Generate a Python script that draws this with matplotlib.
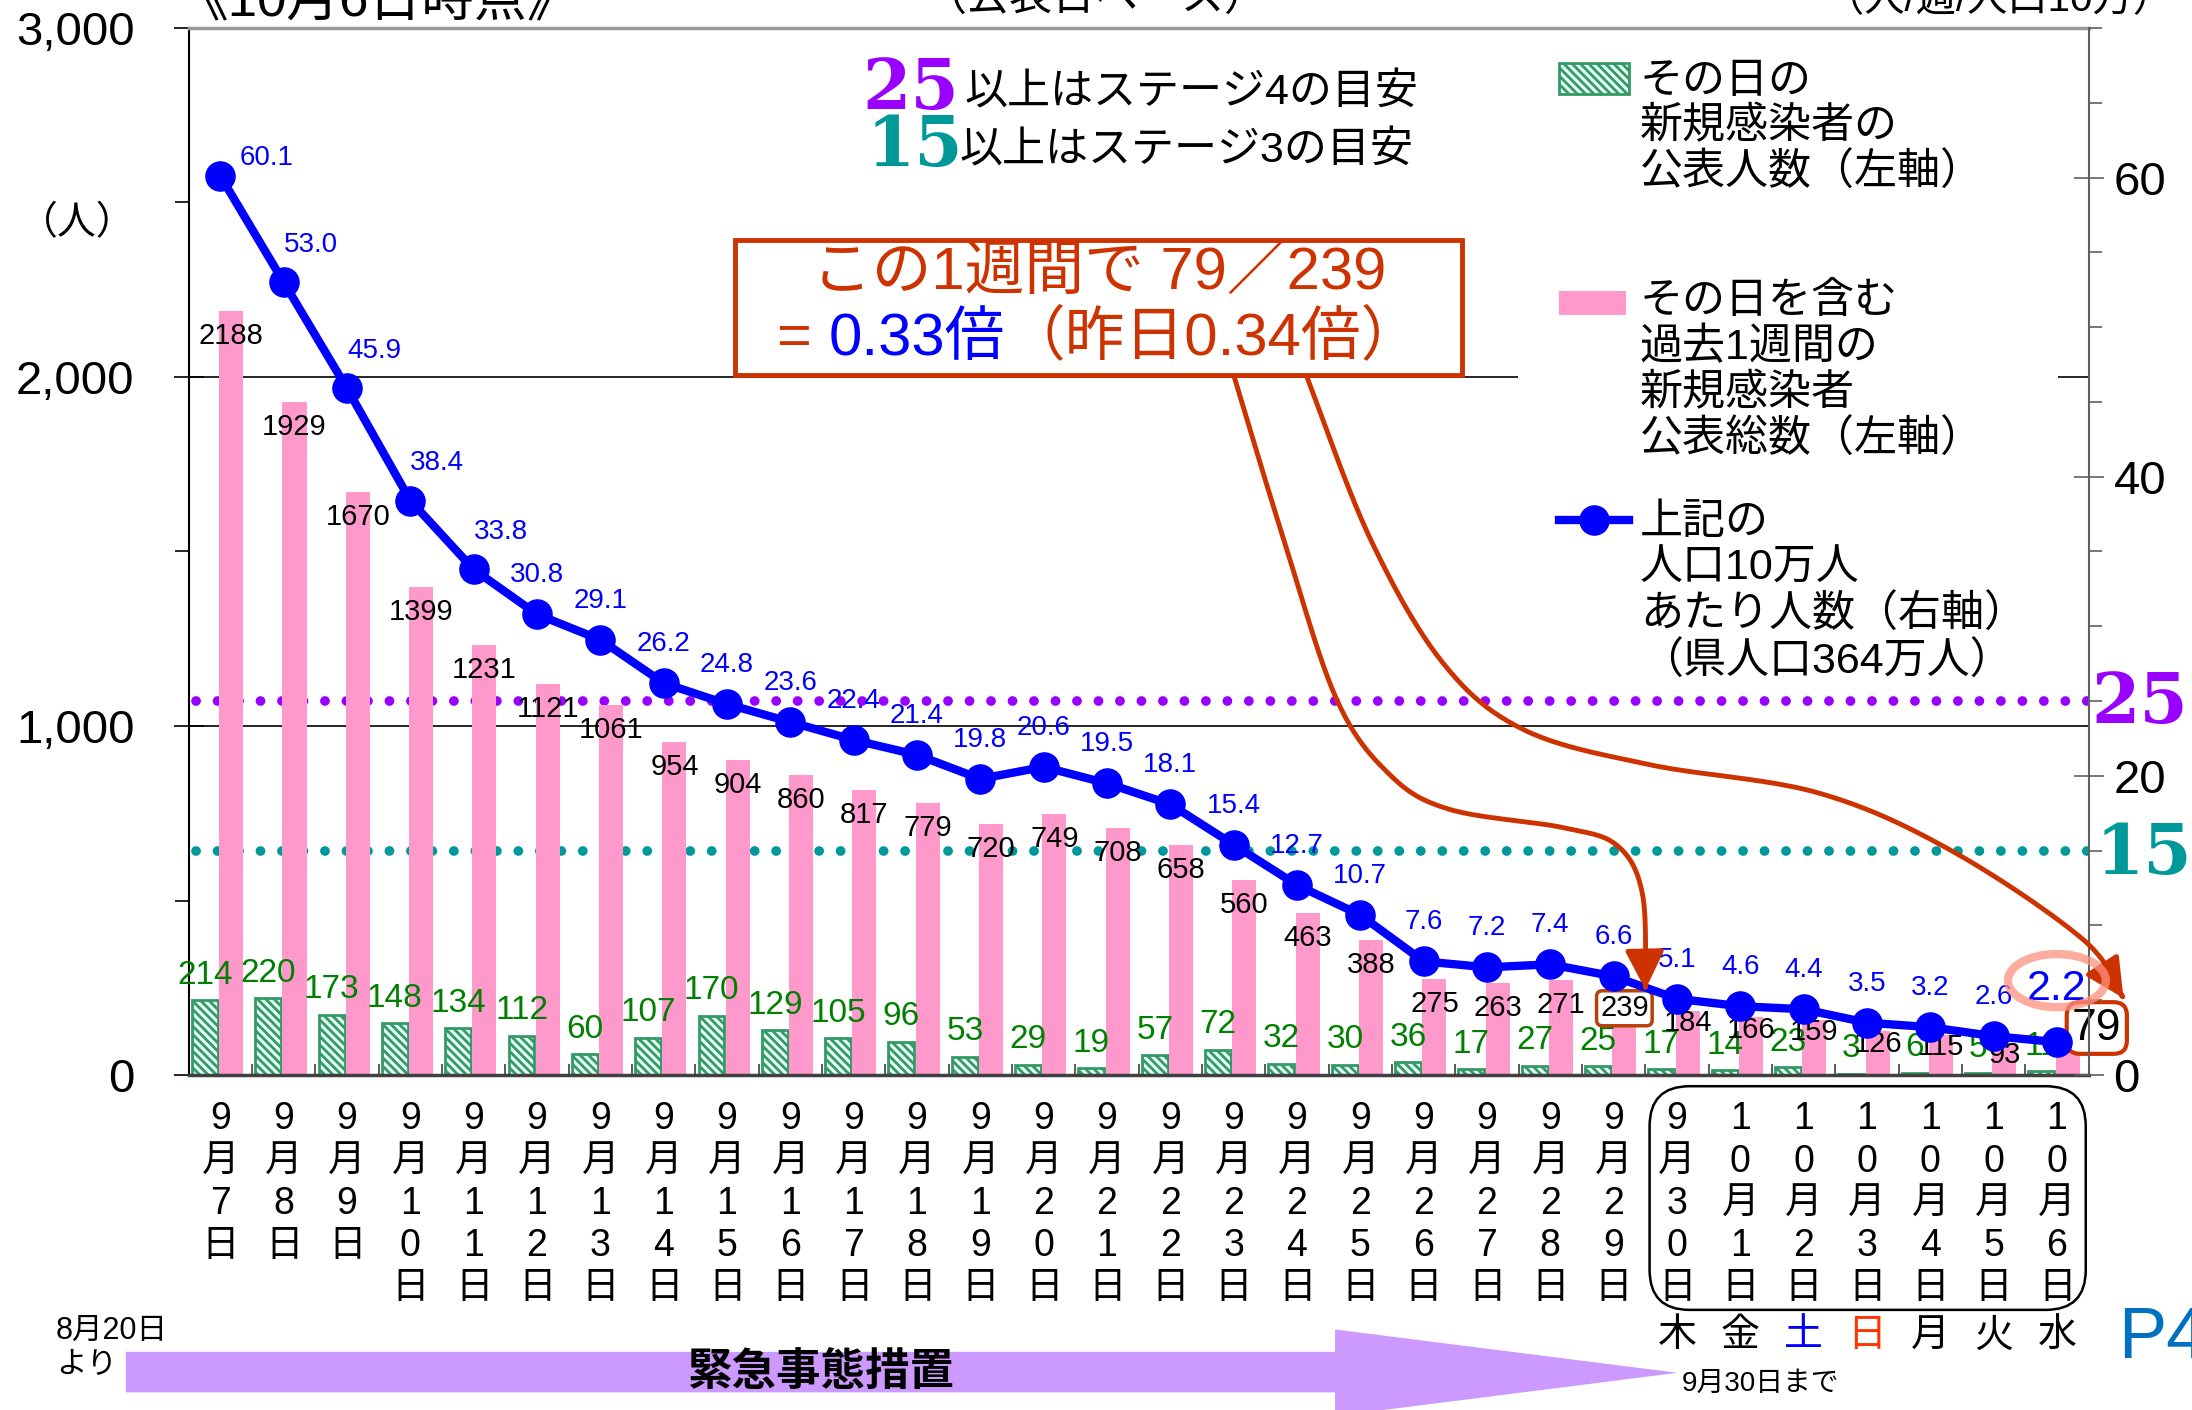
import numpy as np
import matplotlib
matplotlib.use("Agg")
import matplotlib.pyplot as plt
import matplotlib.transforms as mtransforms
from matplotlib.patches import Rectangle, Ellipse, FancyBboxPatch, FancyArrowPatch, Polygon
from matplotlib.path import Path
from matplotlib.lines import Line2D
from matplotlib.offsetbox import TextArea, HPacker, AnnotationBbox
from matplotlib.ticker import FuncFormatter, MultipleLocator

plt.rcParams['font.family'] = ['Liberation Sans', 'Noto Sans CJK JP']
plt.rcParams['hatch.linewidth'] = 2.0

# data
dates = ["9/7", "9/8", "9/9", "9/10", "9/11", "9/12", "9/13", "9/14", "9/15", "9/16",
         "9/17", "9/18", "9/19", "9/20", "9/21", "9/22", "9/23", "9/24", "9/25", "9/26",
         "9/27", "9/28", "9/29", "9/30", "10/1", "10/2", "10/3", "10/4", "10/5", "10/6"]
daily = [214, 220, 173, 148, 134, 112, 60, 107, 170, 129, 105, 96, 53, 29, 19,
         57, 72, 32, 30, 36, 17, 27, 25, 17, 14, 23, 3, 6, 5, 11]
weekly = [2188, 1929, 1670, 1399, 1231, 1121, 1061, 954, 904, 860, 817, 779, 720, 749, 708,
          658, 560, 463, 388, 275, 263, 271, 239, 184, 166, 159, 126, 115, 93, 79]
per100k = [60.1, 53.0, 45.9, 38.4, 33.8, 30.8, 29.1, 26.2, 24.8, 23.6, 22.4, 21.4, 19.8, 20.6, 19.5,
           18.1, 15.4, 12.7, 10.7, 7.6, 7.2, 7.4, 6.6, 5.1, 4.6, 4.4, 3.5, 3.2, 2.6, 2.2]
weekdays = ["木", "金", "土", "日", "月", "火", "水"]
weekday_colors = ["black", "black", "#0000ff", "#ff3300", "black", "black", "black"]
stage4 = 25
stage3 = 15

RED = "#cc3300"
BLUE = "#0000ff"
GREEN_TXT = "#008000"
PURPLE = "#9900ff"
TEAL = "#009999"

W, H = 2192, 1410
S = W / 1568.0


def fx(xd):
    return xd / 1568.0


def fy(yd):
    return 1 - yd * S / H


def px(xd, yd):
    return xd * S, H - yd * S


fig = plt.figure(figsize=(W / 100, H / 100), dpi=100)
ax = fig.add_axes([fx(135), fy(769), fx(1494) - fx(135), fy(20) - fy(769)])
ax2 = ax.twinx()

x = np.arange(len(dates))
ax.set_xlim(-0.5, len(dates) - 0.5)
ax.set_ylim(0, 3000)
ax2.set_ylim(0, 70)

ax.set_axisbelow(True)
ax.yaxis.grid(True, which='major', color='black', lw=1.2)

ax.bar(x - 0.245, daily, width=0.41, facecolor='#e6fff5', edgecolor='#339966',
       hatch='\\\\\\\\', lw=2, zorder=2)
ax.bar(x + 0.17, weekly, width=0.38, color='#ff99cc', zorder=2)

# stage lines (behind bars, in right-axis units)
trans = mtransforms.blended_transform_factory(ax.transAxes, ax2.transData)
ax.plot([0.004, 1], [stage4, stage4], transform=trans, color=PURPLE, lw=7,
        ls=(0, (0.01, 2.2)), dash_capstyle='round', zorder=1.5)
ax.plot([0.004, 1], [stage3, stage3], transform=trans, color=TEAL, lw=7,
        ls=(0, (0.01, 2.2)), dash_capstyle='round', zorder=1.5)

ax2.plot(x, per100k, color=BLUE, lw=6, marker='o', ms=21, zorder=3)

# labels
for i, v in enumerate(daily):
    ax.annotate(str(v), (x[i] - 0.245, v), xytext=(0, 18), textcoords='offset points',
                ha='center', va='center', color=GREEN_TXT, fontsize=24, zorder=4)

for i, v in enumerate(weekly):
    if i == len(weekly) - 1:
        ax.annotate(str(v), (x[i] + 0.17, v), xytext=(21, 14), textcoords='offset points',
                    ha='center', va='center', color='black', fontsize=32, zorder=6,
                    bbox=dict(boxstyle='round,pad=0.12,rounding_size=0.3', fc='white', ec=RED, lw=3))
        continue
    dy = -18 if v > 200 else -9
    kw = {}
    if i == 22:
        dy = -12
        kw['bbox'] = dict(boxstyle='round,pad=0.12,rounding_size=0.2', fc='white', ec='#b8400a', lw=2.5)
    ax.annotate(str(v), (x[i] + 0.17, v), xytext=(0, dy), textcoords='offset points',
                ha='center', va='center', color='black', fontsize=21, zorder=4, **kw)

for i, v in enumerate(per100k):
    if i == 0:
        dx, dy, ha, fs = 14, 13, 'left', 20
    elif i <= 4:
        dx, dy, ha, fs = 0, 27, 'left', 20
    elif i == len(per100k) - 1:
        dx, dy, ha, fs = 0, 38, 'center', 31
    else:
        dx, dy, ha, fs = 0, 28, 'center', 20
    ax2.annotate(f"{v:.1f}", (x[i], v), xytext=(dx, dy), textcoords='offset points',
                 ha=ha, va='center', color=BLUE, fontsize=fs, zorder=5)

# axes styling
ax.set_yticks([0, 1000, 2000, 3000])
ax.yaxis.set_major_formatter(FuncFormatter(lambda v, p: f"{v:,.0f}"))
ax.yaxis.set_minor_locator(MultipleLocator(500))
ax.tick_params(axis='y', which='major', direction='inout', length=22, width=1.2,
               labelsize=34, pad=28)
ax.tick_params(axis='y', which='minor', direction='out', length=10, width=1.2)

ax2.set_yticks([0, 20, 40, 60])
ax2.yaxis.set_minor_locator(MultipleLocator(5))
ax2.tick_params(axis='y', which='major', direction='inout', length=22, width=1.2,
                labelsize=34, pad=7, color='#606060')
ax2.tick_params(axis='y', which='minor', direction='out', length=9, width=1.2, color='#606060')

vlabels = []
for d in dates:
    m, dd = d.split("/")
    vlabels.append("\n".join(list(m) + ["月"] + list(dd) + ["日"]))
ax.set_xticks(x)
ax.set_xticklabels(vlabels, fontsize=27)
for t in ax.get_xticklabels():
    t.set_linespacing(1.22)
ax.set_xticks(np.arange(-0.5, len(dates), 1), minor=True)
ax.tick_params(axis='x', which='major', length=0, pad=19)
ax.tick_params(axis='x', which='minor', direction='in', length=8, width=1.2, color='#404040')

for sp in ['left', 'right', 'top', 'bottom']:
    ax2.spines[sp].set_visible(sp == 'right')
ax.spines['right'].set_visible(False)
ax2.spines['right'].set_color('#606060')
ax2.spines['right'].set_linewidth(1.5)
ax.spines['left'].set_linewidth(1.5)
ax.spines['bottom'].set_color('#404040')
ax.spines['bottom'].set_linewidth(2.5)
ax.spines['top'].set_color('#999999')
ax.spines['top'].set_linewidth(2.5)

# ellipse around last value
mx, my = ax2.transData.transform((x[-1], per100k[-1]))
ell = Ellipse((mx, my + 44 * S), 70 * S, 38 * S, transform=None, fill=False,
              ec='#ff9080', lw=6, alpha=0.75, zorder=6)
fig.add_artist(ell)

# top texts (cut at the top edge)
fig.text(fx(125), fy(12), "《10月6日時点》", fontsize=38, va='baseline')
fig.text(fx(660), fy(8), "（公表日ベース）", fontsize=31, va='baseline')
fig.text(fx(1305), fy(8), "（人/週/人口10万）", fontsize=29, va='baseline')
fig.text(fx(55), fy(160), "（人）", fontsize=28, ha='center', va='center')

# stage notes
fig.text(fx(617), fy(64), "25", family='DejaVu Serif', weight='bold', fontsize=50,
         color=PURPLE, va='center')
fig.text(fx(690), fy(67), "以上はステージ4の目安", fontsize=31, va='center')
fig.text(fx(620), fy(105), "15", family='DejaVu Serif', weight='bold', fontsize=50,
         color=TEAL, va='center')
fig.text(fx(686), fy(108), "以上はステージ3の目安", fontsize=31, va='center')
fig.text(fx(1496), fy(503), "25", family='DejaVu Serif', weight='bold', fontsize=50,
         color=PURPLE, va='center')
fig.text(fx(1499), fy(611), "15", family='DejaVu Serif', weight='bold', fontsize=50,
         color=TEAL, va='center')

# legend (manual)
fig.add_artist(Rectangle((fx(1086), fy(492)), fx(1472) - fx(1086), fy(30) - fy(492),
                         transform=fig.transFigure, fc='white', ec='none', zorder=1))
fig.add_artist(Rectangle((fx(1115), fy(67)), fx(1165) - fx(1115), fy(45) - fy(67),
                         transform=fig.transFigure, fc='#e6fff5', ec='#339966',
                         hatch='\\\\\\\\', lw=2, zorder=2))
fig.add_artist(Rectangle((fx(1115), fy(225)), fx(1163) - fx(1115), fy(208) - fy(225),
                         transform=fig.transFigure, fc='#ff99cc', ec='none', zorder=2))
fig.add_artist(Line2D([fx(1115), fx(1165)], [fy(372), fy(372)], transform=fig.transFigure,
                      color=BLUE, lw=6, zorder=2))
fig.add_artist(Line2D([fx(1140)], [fy(372)], transform=fig.transFigure, color=BLUE,
                      marker='o', ms=21, zorder=2))
fig.text(fx(1173), fy(44), "その日の\n新規感染者の\n公表人数（左軸）", fontsize=31,
         va='top', linespacing=1.18)
fig.text(fx(1173), fy(202), "その日を含む\n過去1週間の\n新規感染者\n公表総数（左軸）",
         fontsize=31, va='top', linespacing=1.18)
fig.text(fx(1173), fy(360), "上記の\n人口10万人\nあたり人数（右軸）\n（県人口364万人）",
         fontsize=31, va='top', linespacing=1.18)

# red comment box
fig.add_artist(Rectangle((fx(526), fy(268)), fx(1046) - fx(526), fy(172) - fy(268),
                         transform=fig.transFigure, fc='white', ec=RED, lw=3.5, zorder=1))
fig.text(fx(786), fy(195), "この1週間で 79／239", fontsize=43, color=RED,
         ha='center', va='center')
parts = [TextArea("= ", textprops=dict(color=RED, fontsize=43)),
         TextArea("0.33倍", textprops=dict(color=BLUE, fontsize=43)),
         TextArea("（昨日0.34倍）", textprops=dict(color=RED, fontsize=43))]
line2 = HPacker(children=parts, align='baseline', pad=0, sep=0)
ab = AnnotationBbox(line2, (fx(786), fy(242)), xycoords='figure fraction',
                    frameon=False, box_alignment=(0.5, 0.5), pad=0)
ab.set_zorder(3)
fig.add_artist(ab)


def smooth(points, n=24):
    p = np.array(points, dtype=float)
    p = np.vstack([p[0], p, p[-1]])
    out = []
    for i in range(1, len(p) - 2):
        p0, p1, p2, p3 = p[i - 1], p[i], p[i + 1], p[i + 2]
        for t in np.linspace(0, 1, n, endpoint=False):
            out.append(0.5 * (2 * p1 + (-p0 + p2) * t + (2 * p0 - 5 * p1 + 4 * p2 - p3) * t ** 2
                              + (-p0 + 3 * p1 - 3 * p2 + p3) * t ** 3))
    out.append(p[-2])
    return np.array(out)


arrow1 = [(883, 270), (918, 385), (956, 500), (994, 554), (1037, 579), (1118, 592),
          (1157, 605), (1175, 640), (1177, 708)]
arrow2 = [(935, 270), (980, 385), (1032, 474), (1090, 522), (1180, 547), (1300, 567),
          (1395, 608), (1490, 672), (1519, 714)]
for pts in (arrow1, arrow2):
    sm = smooth([px(a, b) for a, b in pts])
    arr = FancyArrowPatch(path=Path(sm), transform=None,
                          arrowstyle='-|>,head_length=0.8,head_width=0.4',
                          mutation_scale=30, lw=3.5, color=RED, zorder=2)
    fig.add_artist(arr)

# rounded box around the latest week's dates
bx0, by0 = px(1180, 937)
bx1, by1 = px(1492, 777)
fig.add_artist(FancyBboxPatch((bx0, by0), bx1 - bx0, by1 - by0, transform=None,
                              boxstyle='round,pad=0,rounding_size=40', fill=False,
                              ec='black', lw=1.8, zorder=2))
wtrans = mtransforms.blended_transform_factory(ax.transData, fig.transFigure)
for k, (wd, c) in enumerate(zip(weekdays, weekday_colors)):
    ax.text(x[len(dates) - 7 + k], fy(956), wd, transform=wtrans, fontsize=28, color=c,
            ha='center', va='center', clip_on=False)

# emergency measures arrow
body_top, body_bot = 967, 996
arrow_poly = [px(90, body_top), px(955, body_top), px(955, 951), px(1200, 982),
              px(955, 1013), px(955, body_bot), px(90, body_bot)]
fig.add_artist(Polygon(arrow_poly, closed=True, transform=None, fc='#cc99ff', ec='none', zorder=1))
fig.text(fx(587), fy(982), "緊急事態措置", fontsize=32, weight='bold', ha='center', va='center')
fig.text(fx(40), fy(952), "8月20日", fontsize=22, va='center')
fig.text(fx(40), fy(976), "より", fontsize=22, va='center')
fig.text(fx(1203), fy(990), "9月30日まで", fontsize=20, va='center')
fig.text(fx(1515), fy(958), "P4", fontsize=52, color='#0070c0', va='center')

fig.savefig("out.png", dpi=100)
